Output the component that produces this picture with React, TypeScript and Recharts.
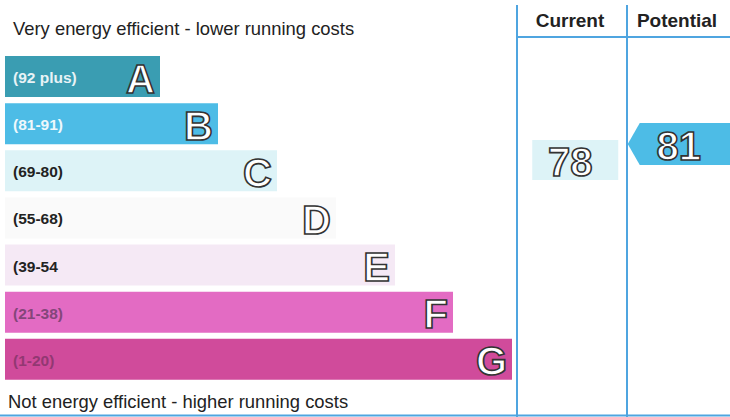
import React from 'react';
import { BarChart, Bar, XAxis, YAxis, LabelList, Cell, ScatterChart, Scatter } from 'recharts';

const bandLetters = ['A', 'B', 'C', 'D', 'E', 'F', 'G'];
const bandRanges = ['(92 plus)', '(81-91)', '(69-80)', '(55-68)', '(39-54', '(21-38)', '(1-20)'];
const bandMin = [92, 81, 69, 55, 39, 21, 1];
const bandLengths = [155, 213, 272, 331, 390, 448, 507];
const bandColors = ['#3a9db2', '#4dbce6', '#ddf3f7', '#fafafa', '#f5e9f5', '#e36bc3', '#d04b9b'];
const rangeTextColors = ['#e8f3f6', '#eef8fc', '#222222', '#222222', '#222222', '#84467a', '#923872'];

const columns = ['Current', 'Potential'];
const ratings = [78, 81];

const topCaption = 'Very energy efficient - lower running costs';
const bottomCaption = 'Not energy efficient - higher running costs';

const FONT = '"Liberation Sans", Arial, Helvetica, sans-serif';
const FRAME = '#4fa5e0';

const bandData = bandLetters.map((letter, i) => ({
  letter,
  range: bandRanges[i],
  len: bandLengths[i],
}));

const ratingData = columns.map((col, i) => ({ col, score: ratings[i] }));

const bandIndexFor = (score: number) => {
  for (let i = 0; i < bandMin.length; i++) if (score >= bandMin[i]) return i;
  return bandMin.length - 1;
};

const RangeLabel = (props: any) => {
  const { x, y, height, value } = props;
  const idx = bandRanges.indexOf(value);
  return (
    <text
      x={Number(x) + 8}
      y={Number(y) + Number(height) / 2 + 1}
      dominantBaseline="central"
      fontSize={15.5}
      fontWeight="bold"
      fontFamily={FONT}
      fill={rangeTextColors[idx]}
    >
      {value}
    </text>
  );
};

const LetterLabel = (props: any) => {
  const { x, y, width, height, value } = props;
  return (
    <text
      x={Number(x) + Number(width) - 5}
      y={Number(y) + Number(height) / 2 + 2}
      dominantBaseline="central"
      textAnchor="end"
      fontSize={40}
      fontWeight="bold"
      fontFamily={FONT}
      fill="#ffffff"
      stroke="#333333"
      strokeWidth={1.6}
    >
      {value}
    </text>
  );
};

const RatingShape = (props: any) => {
  const { cx, cy, payload } = props;
  const idx = bandIndexFor(payload.score);
  const color = bandColors[idx];
  const isPotential = payload.col === 'Potential';
  const textEl = (
    <text
      x={cx + (isPotential ? 2 : 0)}
      y={cy + 2}
      dominantBaseline="central"
      textAnchor="middle"
      fontSize={40}
      fontWeight="bold"
      fontFamily={FONT}
      fill="#ffffff"
      stroke="#333333"
      strokeWidth={1.6}
    >
      {payload.score}
    </text>
  );
  if (isPotential) {
    const pts = [
      [cx - 49, cy],
      [cx - 37, cy - 21],
      [cx + 60, cy - 21],
      [cx + 60, cy + 21],
      [cx - 37, cy + 21],
    ]
      .map((p) => p.join(','))
      .join(' ');
    return (
      <g>
        <polygon points={pts} fill={color} />
        {textEl}
      </g>
    );
  }
  return (
    <g>
      <rect x={cx - 38} y={cy - 20} width={86} height={40} fill={color} />
      {textEl}
    </g>
  );
};

export default function App() {
  return (
    <div style={{ position: 'absolute', left: 0, top: 0, width: 730, height: 417, background: '#ffffff', overflow: 'hidden' }}>
      <div style={{ position: 'absolute', left: 0, top: 0 }}>
        <BarChart
          width={730}
          height={417}
          data={bandData}
          layout="vertical"
          margin={{ top: 53, right: 218, bottom: 34, left: 5 }}
          barCategoryGap={3}
        >
          <XAxis type="number" domain={[0, 507]} hide />
          <YAxis type="category" dataKey="letter" hide />
          <Bar dataKey="len" isAnimationActive={false} barSize={41}>
            {bandData.map((d, i) => (
              <Cell key={d.letter} fill={bandColors[i]} />
            ))}
            <LabelList dataKey="range" content={RangeLabel} />
            <LabelList dataKey="letter" content={LetterLabel} />
          </Bar>
        </BarChart>
      </div>
      <svg width={730} height={417} style={{ position: 'absolute', left: 0, top: 0 }}>
        <text x={13} y={35} fontSize={18.4} fontFamily={FONT} fill="#222222">{topCaption}</text>
        <text x={8} y={408} fontSize={18.4} fontFamily={FONT} fill="#222222">{bottomCaption}</text>
        <line x1={517} y1={5} x2={517} y2={417} stroke={FRAME} strokeWidth={2} />
        <line x1={627} y1={5} x2={627} y2={417} stroke={FRAME} strokeWidth={2} />
        <line x1={517} y1={37} x2={730} y2={37} stroke={FRAME} strokeWidth={2} />
        <line x1={0} y1={415.5} x2={730} y2={415.5} stroke={FRAME} strokeWidth={2} />
        <text x={570} y={27} textAnchor="middle" fontSize={19} fontWeight="bold" fontFamily={FONT} fill="#222222">{columns[0]}</text>
        <text x={677} y={27} textAnchor="middle" fontSize={19} fontWeight="bold" fontFamily={FONT} fill="#222222">{columns[1]}</text>
      </svg>
      <div style={{ position: 'absolute', left: 0, top: 0 }}>
        <ScatterChart width={730} height={417} margin={{ top: 42.7, right: 0, bottom: 161, left: 517 }}>
          <XAxis type="category" dataKey="col" scale="band" hide allowDuplicatedCategory={false} />
          <YAxis type="number" dataKey="score" domain={[60, 100]} hide />
          <Scatter data={ratingData} isAnimationActive={false} shape={RatingShape} />
        </ScatterChart>
      </div>
    </div>
  );
}
